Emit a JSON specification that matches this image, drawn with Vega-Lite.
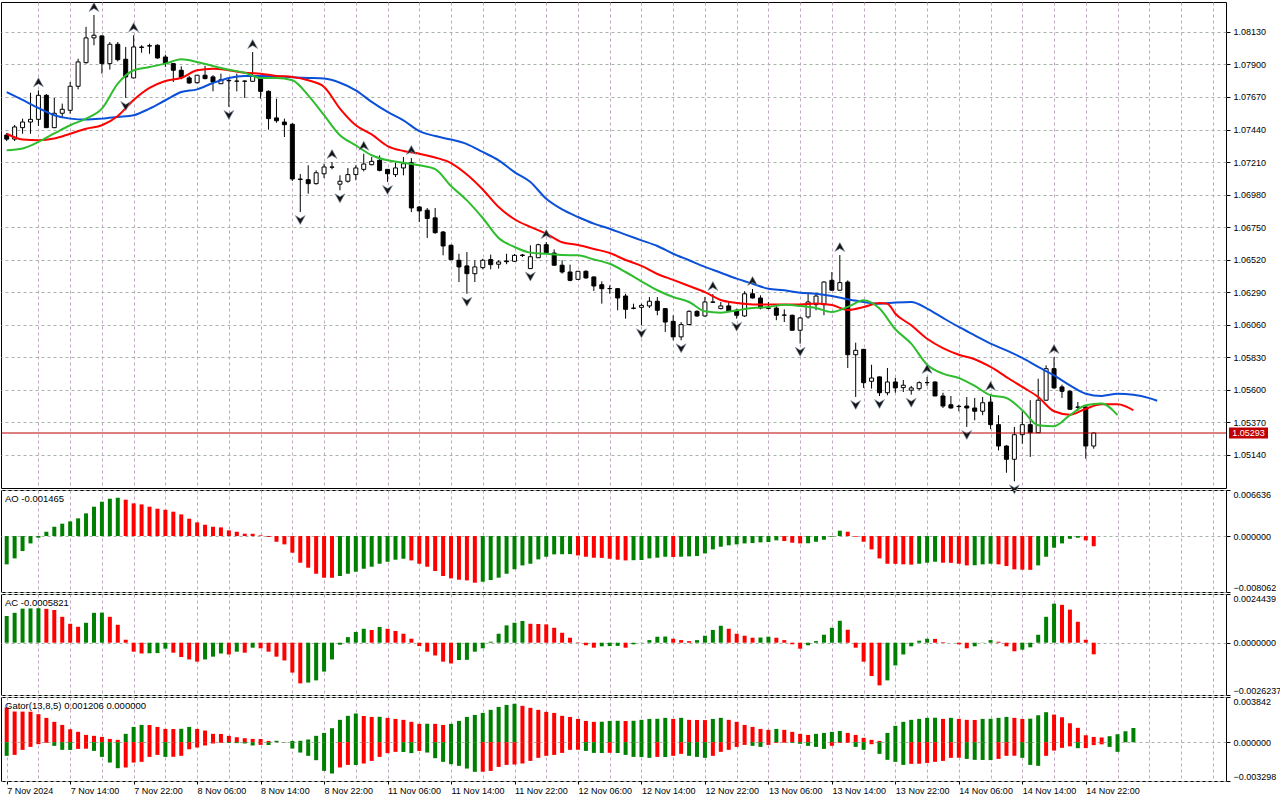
{
  "$schema": "https://vega.github.io/schema/vega-lite/v6.json",
  "padding": {"left": 0, "top": 0, "right": 0, "bottom": 0},
  "background": "white",
  "config": {
    "view": {"stroke": "#000", "strokeWidth": 1},
    "font": "Liberation Sans",
    "axis": {"labelFont": "Liberation Sans", "labelFontSize": 9, "labelColor": "#000", "tickColor": "#000", "domain": false, "gridColor": "#c0a8c0", "gridDash": [3, 3], "gridOpacity": 1},
    "axisY": {"gridColor": "#a8b4a8"},
    "title": {"font": "Liberation Sans", "fontSize": 9.5, "fontWeight": "normal", "color": "#000", "anchor": "start", "offset": -14, "dx": 4}
  },
  "datasets": {
    "candles": [
      {"i":0,"o":1.07401,"h":1.07415,"l":1.07358,"c":1.07372},{"i":1,"o":1.07372,"h":1.07472,"l":1.07358,"c":1.07458},{"i":2,"o":1.07453,"h":1.07517,"l":1.0741,"c":1.07493},{"i":3,"o":1.07493,"h":1.077,"l":1.0741,"c":1.07512},{"i":4,"o":1.07512,"h":1.07717,"l":1.07465,"c":1.07682},{"i":5,"o":1.07682,"h":1.07691,"l":1.07451,"c":1.07453},{"i":6,"o":1.07453,"h":1.07663,"l":1.07449,"c":1.07555},{"i":7,"o":1.07555,"h":1.07623,"l":1.07529,"c":1.07583},{"i":8,"o":1.07576,"h":1.07776,"l":1.07552,"c":1.07746},{"i":9,"o":1.07746,"h":1.07941,"l":1.07724,"c":1.07918},
      {"i":10,"o":1.07913,"h":1.08166,"l":1.07906,"c":1.08088},{"i":11,"o":1.08088,"h":1.0825,"l":1.08036,"c":1.08107},{"i":12,"o":1.08102,"h":1.08105,"l":1.07835,"c":1.07906},{"i":13,"o":1.07906,"h":1.08059,"l":1.07864,"c":1.08043},{"i":14,"o":1.08043,"h":1.08059,"l":1.07922,"c":1.07934},{"i":15,"o":1.07937,"h":1.08024,"l":1.07663,"c":1.07812},{"i":16,"o":1.07805,"h":1.08107,"l":1.07801,"c":1.08024},{"i":17,"o":1.0802,"h":1.08036,"l":1.07983,"c":1.08024},{"i":18,"o":1.0803,"h":1.08047,"l":1.07976,"c":1.08033},{"i":19,"o":1.08036,"h":1.08043,"l":1.07941,"c":1.07946},
      {"i":20,"o":1.07953,"h":1.07969,"l":1.07883,"c":1.07906},{"i":21,"o":1.07906,"h":1.0791,"l":1.07776,"c":1.07859},{"i":22,"o":1.07859,"h":1.07887,"l":1.07795,"c":1.07805},{"i":23,"o":1.07805,"h":1.07819,"l":1.07764,"c":1.07769},{"i":24,"o":1.07771,"h":1.07824,"l":1.07764,"c":1.07824},{"i":25,"o":1.07824,"h":1.0789,"l":1.07795,"c":1.078},{"i":26,"o":1.07812,"h":1.07824,"l":1.0771,"c":1.07776},{"i":27,"o":1.07764,"h":1.07835,"l":1.07762,"c":1.07792},{"i":28,"o":1.07785,"h":1.07805,"l":1.076,"c":1.07788},{"i":29,"o":1.07781,"h":1.07835,"l":1.0771,"c":1.07783},
      {"i":30,"o":1.07781,"h":1.07788,"l":1.07663,"c":1.07783},{"i":31,"o":1.07781,"h":1.07988,"l":1.07779,"c":1.07819},{"i":32,"o":1.07812,"h":1.07819,"l":1.07658,"c":1.0771},{"i":33,"o":1.0771,"h":1.07717,"l":1.07439,"c":1.07517},{"i":34,"o":1.07522,"h":1.07658,"l":1.07488,"c":1.07502},{"i":35,"o":1.07493,"h":1.07517,"l":1.07387,"c":1.07474},{"i":36,"o":1.07477,"h":1.07486,"l":1.07076,"c":1.0709},{"i":37,"o":1.07086,"h":1.07125,"l":1.06856,"c":1.0709},{"i":38,"o":1.07085,"h":1.07187,"l":1.06986,"c":1.07057},{"i":39,"o":1.07057,"h":1.07151,"l":1.0705,"c":1.07134},
      {"i":40,"o":1.07127,"h":1.07198,"l":1.07097,"c":1.07175},{"i":41,"o":1.07173,"h":1.0721,"l":1.07158,"c":1.07175},{"i":42,"o":1.07053,"h":1.07116,"l":1.0701,"c":1.07074},{"i":43,"o":1.07074,"h":1.07168,"l":1.07064,"c":1.07121},{"i":44,"o":1.07121,"h":1.07187,"l":1.07081,"c":1.07168},{"i":45,"o":1.07158,"h":1.07269,"l":1.07144,"c":1.07196},{"i":46,"o":1.07191,"h":1.07245,"l":1.07187,"c":1.07215},{"i":47,"o":1.07222,"h":1.07257,"l":1.07144,"c":1.07151},{"i":48,"o":1.07158,"h":1.0716,"l":1.07069,"c":1.07127},{"i":49,"o":1.07121,"h":1.07205,"l":1.07104,"c":1.07168},
      {"i":50,"o":1.07168,"h":1.07245,"l":1.07116,"c":1.07198},{"i":51,"o":1.07205,"h":1.07238,"l":1.06856,"c":1.06885},{"i":52,"o":1.06892,"h":1.06899,"l":1.06786,"c":1.06864},{"i":53,"o":1.06869,"h":1.06885,"l":1.06673,"c":1.06811},{"i":54,"o":1.06815,"h":1.06885,"l":1.06703,"c":1.0671},{"i":55,"o":1.06715,"h":1.06722,"l":1.0655,"c":1.06616},{"i":56,"o":1.06621,"h":1.06626,"l":1.06517,"c":1.06519},{"i":57,"o":1.06515,"h":1.06561,"l":1.06361,"c":1.06468},{"i":58,"o":1.06475,"h":1.06573,"l":1.06278,"c":1.0642},{"i":59,"o":1.0642,"h":1.06515,"l":1.06361,"c":1.06468},
      {"i":60,"o":1.06463,"h":1.06526,"l":1.06451,"c":1.06515},{"i":61,"o":1.0652,"h":1.06555,"l":1.06451,"c":1.06484},{"i":62,"o":1.06487,"h":1.06515,"l":1.06456,"c":1.06503},{"i":63,"o":1.0651,"h":1.06561,"l":1.06487,"c":1.06505},{"i":64,"o":1.06508,"h":1.06559,"l":1.06503,"c":1.0655},{"i":65,"o":1.06552,"h":1.06559,"l":1.06538,"c":1.06549},{"i":66,"o":1.06456,"h":1.06621,"l":1.06456,"c":1.0654},{"i":67,"o":1.06533,"h":1.06632,"l":1.06533,"c":1.06625},{"i":68,"o":1.06625,"h":1.06644,"l":1.06568,"c":1.06568},{"i":69,"o":1.06566,"h":1.06592,"l":1.06475,"c":1.0648},
      {"i":70,"o":1.0648,"h":1.06515,"l":1.0642,"c":1.06432},{"i":71,"o":1.06432,"h":1.06484,"l":1.06366,"c":1.06373},{"i":72,"o":1.0638,"h":1.06437,"l":1.06377,"c":1.06437},{"i":73,"o":1.06437,"h":1.06444,"l":1.06385,"c":1.0639},{"i":74,"o":1.06397,"h":1.064,"l":1.06298,"c":1.06333},{"i":75,"o":1.06342,"h":1.06366,"l":1.06208,"c":1.06314},{"i":76,"o":1.06314,"h":1.06338,"l":1.06278,"c":1.06315},{"i":77,"o":1.06314,"h":1.06319,"l":1.06161,"c":1.06248},{"i":78,"o":1.06262,"h":1.06278,"l":1.06102,"c":1.06168},{"i":79,"o":1.06177,"h":1.06208,"l":1.06168,"c":1.06175},
      {"i":80,"o":1.06182,"h":1.06208,"l":1.06055,"c":1.06196},{"i":81,"o":1.06192,"h":1.06255,"l":1.06177,"c":1.06225},{"i":82,"o":1.06225,"h":1.06255,"l":1.06126,"c":1.06161},{"i":83,"o":1.06173,"h":1.06177,"l":1.06008,"c":1.06078},{"i":84,"o":1.06083,"h":1.06126,"l":1.05949,"c":1.05973},{"i":85,"o":1.05973,"h":1.06078,"l":1.05949,"c":1.0606},{"i":86,"o":1.0606,"h":1.06161,"l":1.06055,"c":1.06154},{"i":87,"o":1.06154,"h":1.06161,"l":1.06114,"c":1.06121},{"i":88,"o":1.06121,"h":1.06255,"l":1.06116,"c":1.0622},{"i":89,"o":1.0622,"h":1.06276,"l":1.06213,"c":1.06218},
      {"i":90,"o":1.06173,"h":1.0622,"l":1.06168,"c":1.06192},{"i":91,"o":1.06192,"h":1.0622,"l":1.06149,"c":1.06154},{"i":92,"o":1.06161,"h":1.06173,"l":1.06102,"c":1.06126},{"i":93,"o":1.06121,"h":1.06296,"l":1.06114,"c":1.06278},{"i":94,"o":1.06278,"h":1.06312,"l":1.06243,"c":1.06248},{"i":95,"o":1.06248,"h":1.06267,"l":1.06168,"c":1.06177},{"i":96,"o":1.06177,"h":1.0622,"l":1.06168,"c":1.06175},{"i":97,"o":1.06177,"h":1.06196,"l":1.06091,"c":1.06126},{"i":98,"o":1.06126,"h":1.06168,"l":1.06078,"c":1.06128},{"i":99,"o":1.06126,"h":1.0613,"l":1.0602,"c":1.0602},
      {"i":100,"o":1.0602,"h":1.06114,"l":1.05925,"c":1.06107},{"i":101,"o":1.06114,"h":1.0629,"l":1.06102,"c":1.0622},{"i":102,"o":1.06201,"h":1.06278,"l":1.06161,"c":1.06262},{"i":103,"o":1.06201,"h":1.06366,"l":1.06126,"c":1.06361},{"i":104,"o":1.06373,"h":1.06432,"l":1.06303,"c":1.06303},{"i":105,"o":1.06303,"h":1.06552,"l":1.063,"c":1.06357},{"i":106,"o":1.06361,"h":1.06373,"l":1.05753,"c":1.05847},{"i":107,"o":1.05847,"h":1.05932,"l":1.05548,"c":1.05878},{"i":108,"o":1.05885,"h":1.05887,"l":1.05612,"c":1.05649},{"i":109,"o":1.05659,"h":1.05776,"l":1.05607,"c":1.05682},
      {"i":110,"o":1.0569,"h":1.05693,"l":1.05555,"c":1.05578},{"i":111,"o":1.05578,"h":1.05753,"l":1.0556,"c":1.05654},{"i":112,"o":1.05654,"h":1.05683,"l":1.05578,"c":1.05612},{"i":113,"o":1.05614,"h":1.05668,"l":1.05583,"c":1.05631},{"i":114,"o":1.05596,"h":1.05626,"l":1.05564,"c":1.05612},{"i":115,"o":1.05607,"h":1.05659,"l":1.05596,"c":1.05649},{"i":116,"o":1.05649,"h":1.0569,"l":1.05626,"c":1.0565},{"i":117,"o":1.05654,"h":1.05658,"l":1.05555,"c":1.05555},{"i":118,"o":1.05555,"h":1.05578,"l":1.0547,"c":1.05484},{"i":119,"o":1.05493,"h":1.05555,"l":1.05465,"c":1.0547},
      {"i":120,"o":1.05482,"h":1.05493,"l":1.05447,"c":1.0548},{"i":121,"o":1.05484,"h":1.05548,"l":1.05336,"c":1.0547},{"i":122,"o":1.0547,"h":1.05541,"l":1.05383,"c":1.05447},{"i":123,"o":1.05447,"h":1.05548,"l":1.05419,"c":1.05507},{"i":124,"o":1.05512,"h":1.05569,"l":1.0532,"c":1.05352},{"i":125,"o":1.05352,"h":1.05419,"l":1.0517,"c":1.05201},{"i":126,"o":1.05201,"h":1.05206,"l":1.05012,"c":1.05107},{"i":127,"o":1.05107,"h":1.05336,"l":1.04951,"c":1.05281},{"i":128,"o":1.05281,"h":1.05447,"l":1.05217,"c":1.05352},{"i":129,"o":1.05352,"h":1.05525,"l":1.05124,"c":1.05295},
      {"i":130,"o":1.05295,"h":1.05677,"l":1.05293,"c":1.05525},{"i":131,"o":1.05525,"h":1.05772,"l":1.05523,"c":1.05748},{"i":132,"o":1.05748,"h":1.05831,"l":1.05607,"c":1.05612},{"i":133,"o":1.05619,"h":1.05635,"l":1.05541,"c":1.05588},{"i":134,"o":1.05588,"h":1.05597,"l":1.05456,"c":1.05461},{"i":135,"o":1.05477,"h":1.05512,"l":1.0545,"c":1.05475},{"i":136,"o":1.05477,"h":1.0548,"l":1.05111,"c":1.05201},{"i":137,"o":1.05201,"h":1.05295,"l":1.05182,"c":1.05293}
    ],
    "fractals": [
      {"i":4,"p":1.07717,"t":"up"},{"i":11,"p":1.0825,"t":"up"},{"i":16,"p":1.08107,"t":"up"},{"i":31,"p":1.07988,"t":"up"},{"i":41,"p":1.0721,"t":"up"},{"i":45,"p":1.07269,"t":"up"},{"i":51,"p":1.07238,"t":"up"},{"i":68,"p":1.06644,"t":"up"},{"i":89,"p":1.06276,"t":"up"},{"i":94,"p":1.06312,"t":"up"},{"i":105,"p":1.06552,"t":"up"},{"i":116,"p":1.0569,"t":"up"},{"i":124,"p":1.05569,"t":"up"},{"i":132,"p":1.05831,"t":"up"},
      {"i":15,"p":1.07663,"t":"down"},{"i":28,"p":1.076,"t":"down"},{"i":37,"p":1.06856,"t":"down"},{"i":42,"p":1.0701,"t":"down"},{"i":48,"p":1.07069,"t":"down"},{"i":58,"p":1.06278,"t":"down"},{"i":66,"p":1.06456,"t":"down"},{"i":80,"p":1.06055,"t":"down"},{"i":85,"p":1.05949,"t":"down"},{"i":92,"p":1.06102,"t":"down"},{"i":100,"p":1.05925,"t":"down"},{"i":107,"p":1.05548,"t":"down"},{"i":110,"p":1.05555,"t":"down"},{"i":114,"p":1.05564,"t":"down"},{"i":121,"p":1.05336,"t":"down"},{"i":127,"p":1.04951,"t":"down"}
    ],
    "alligator": [
      {"i":0,"s":"jaw","v":1.07705},{"i":2,"s":"jaw","v":1.07649},{"i":4,"s":"jaw","v":1.07592},{"i":6,"s":"jaw","v":1.07541},{"i":8,"s":"jaw","v":1.07517},{"i":10,"s":"jaw","v":1.0751},{"i":12,"s":"jaw","v":1.07517},{"i":14,"s":"jaw","v":1.07529},{"i":16,"s":"jaw","v":1.07541},{"i":18,"s":"jaw","v":1.07588},{"i":20,"s":"jaw","v":1.07647},{"i":22,"s":"jaw","v":1.07705},{"i":24,"s":"jaw","v":1.07724},{"i":26,"s":"jaw","v":1.07769},{"i":28,"s":"jaw","v":1.07805},{"i":30,"s":"jaw","v":1.07819},{"i":32,"s":"jaw","v":1.07819},{"i":34,"s":"jaw","v":1.07817},{"i":36,"s":"jaw","v":1.0781},{"i":38,"s":"jaw","v":1.07805},{"i":40,"s":"jaw","v":1.078},{"i":42,"s":"jaw","v":1.07771},{"i":44,"s":"jaw","v":1.07717},{"i":46,"s":"jaw","v":1.07635},{"i":48,"s":"jaw","v":1.07564},{"i":50,"s":"jaw","v":1.07505},{"i":52,"s":"jaw","v":1.07429},{"i":54,"s":"jaw","v":1.07394},{"i":56,"s":"jaw","v":1.07369},{"i":58,"s":"jaw","v":1.07337},{"i":60,"s":"jaw","v":1.07281},{"i":62,"s":"jaw","v":1.07222},{"i":64,"s":"jaw","v":1.07139},{"i":66,"s":"jaw","v":1.07069},{"i":68,"s":"jaw","v":1.0695},{"i":70,"s":"jaw","v":1.06875},{"i":72,"s":"jaw","v":1.06821},{"i":74,"s":"jaw","v":1.06774},{"i":76,"s":"jaw","v":1.06738},{"i":78,"s":"jaw","v":1.06696},{"i":80,"s":"jaw","v":1.06656},{"i":82,"s":"jaw","v":1.06616},{"i":84,"s":"jaw","v":1.06561},{"i":86,"s":"jaw","v":1.06515},{"i":88,"s":"jaw","v":1.06468},{"i":90,"s":"jaw","v":1.06427},{"i":92,"s":"jaw","v":1.06385},{"i":94,"s":"jaw","v":1.06349},{"i":96,"s":"jaw","v":1.06314},{"i":98,"s":"jaw","v":1.06303},{"i":100,"s":"jaw","v":1.06285},{"i":102,"s":"jaw","v":1.06278},{"i":104,"s":"jaw","v":1.06262},{"i":106,"s":"jaw","v":1.06239},{"i":108,"s":"jaw","v":1.0622},{"i":110,"s":"jaw","v":1.06208},{"i":112,"s":"jaw","v":1.06216},{"i":114,"s":"jaw","v":1.0622},{"i":116,"s":"jaw","v":1.06173},{"i":118,"s":"jaw","v":1.06107},{"i":120,"s":"jaw","v":1.06043},{"i":122,"s":"jaw","v":1.05984},{"i":124,"s":"jaw","v":1.05925},{"i":126,"s":"jaw","v":1.05878},{"i":128,"s":"jaw","v":1.05824},{"i":130,"s":"jaw","v":1.0576},{"i":132,"s":"jaw","v":1.05701},{"i":134,"s":"jaw","v":1.0563},{"i":136,"s":"jaw","v":1.05571},{"i":138,"s":"jaw","v":1.05555},{"i":140,"s":"jaw","v":1.05571},{"i":142,"s":"jaw","v":1.05564},{"i":144,"s":"jaw","v":1.0554},{"i":145,"s":"jaw","v":1.05521},
      {"i":0,"s":"teeth","v":1.0741},{"i":2,"s":"teeth","v":1.07369},{"i":4,"s":"teeth","v":1.07364},{"i":6,"s":"teeth","v":1.07376},{"i":8,"s":"teeth","v":1.0741},{"i":10,"s":"teeth","v":1.07446},{"i":12,"s":"teeth","v":1.0747},{"i":14,"s":"teeth","v":1.07536},{"i":16,"s":"teeth","v":1.07649},{"i":18,"s":"teeth","v":1.07734},{"i":20,"s":"teeth","v":1.07783},{"i":22,"s":"teeth","v":1.07805},{"i":24,"s":"teeth","v":1.07859},{"i":26,"s":"teeth","v":1.0787},{"i":28,"s":"teeth","v":1.07859},{"i":30,"s":"teeth","v":1.07842},{"i":32,"s":"teeth","v":1.07835},{"i":34,"s":"teeth","v":1.07819},{"i":36,"s":"teeth","v":1.07812},{"i":38,"s":"teeth","v":1.07788},{"i":40,"s":"teeth","v":1.07741},{"i":42,"s":"teeth","v":1.07588},{"i":44,"s":"teeth","v":1.0747},{"i":46,"s":"teeth","v":1.07405},{"i":48,"s":"teeth","v":1.07323},{"i":50,"s":"teeth","v":1.07288},{"i":52,"s":"teeth","v":1.07269},{"i":54,"s":"teeth","v":1.07242},{"i":56,"s":"teeth","v":1.07203},{"i":58,"s":"teeth","v":1.07122},{"i":60,"s":"teeth","v":1.07016},{"i":62,"s":"teeth","v":1.06892},{"i":64,"s":"teeth","v":1.06805},{"i":66,"s":"teeth","v":1.06751},{"i":68,"s":"teeth","v":1.06703},{"i":70,"s":"teeth","v":1.06642},{"i":72,"s":"teeth","v":1.06623},{"i":74,"s":"teeth","v":1.06595},{"i":76,"s":"teeth","v":1.06566},{"i":78,"s":"teeth","v":1.06517},{"i":80,"s":"teeth","v":1.06475},{"i":82,"s":"teeth","v":1.06418},{"i":84,"s":"teeth","v":1.06376},{"i":86,"s":"teeth","v":1.06333},{"i":88,"s":"teeth","v":1.0629},{"i":90,"s":"teeth","v":1.06234},{"i":92,"s":"teeth","v":1.06213},{"i":94,"s":"teeth","v":1.06202},{"i":96,"s":"teeth","v":1.06202},{"i":98,"s":"teeth","v":1.06202},{"i":100,"s":"teeth","v":1.06202},{"i":102,"s":"teeth","v":1.06209},{"i":104,"s":"teeth","v":1.06198},{"i":106,"s":"teeth","v":1.06163},{"i":108,"s":"teeth","v":1.06184},{"i":110,"s":"teeth","v":1.06213},{"i":111,"s":"teeth","v":1.06208},{"i":112,"s":"teeth","v":1.06137},{"i":114,"s":"teeth","v":1.06055},{"i":116,"s":"teeth","v":1.0596},{"i":118,"s":"teeth","v":1.05894},{"i":120,"s":"teeth","v":1.05847},{"i":122,"s":"teeth","v":1.05815},{"i":124,"s":"teeth","v":1.0576},{"i":126,"s":"teeth","v":1.05689},{"i":128,"s":"teeth","v":1.05619},{"i":130,"s":"teeth","v":1.05548},{"i":132,"s":"teeth","v":1.05447},{"i":134,"s":"teeth","v":1.05423},{"i":136,"s":"teeth","v":1.05465},{"i":138,"s":"teeth","v":1.05496},{"i":140,"s":"teeth","v":1.05496},{"i":142,"s":"teeth","v":1.05454},
      {"i":0,"s":"lips","v":1.07293},{"i":2,"s":"lips","v":1.07306},{"i":4,"s":"lips","v":1.07352},{"i":6,"s":"lips","v":1.07412},{"i":8,"s":"lips","v":1.0747},{"i":10,"s":"lips","v":1.07517},{"i":12,"s":"lips","v":1.07588},{"i":14,"s":"lips","v":1.07764},{"i":16,"s":"lips","v":1.07859},{"i":18,"s":"lips","v":1.07882},{"i":20,"s":"lips","v":1.07906},{"i":22,"s":"lips","v":1.07937},{"i":24,"s":"lips","v":1.07918},{"i":26,"s":"lips","v":1.07889},{"i":28,"s":"lips","v":1.07863},{"i":30,"s":"lips","v":1.07842},{"i":32,"s":"lips","v":1.07805},{"i":34,"s":"lips","v":1.07805},{"i":36,"s":"lips","v":1.07788},{"i":38,"s":"lips","v":1.07682},{"i":40,"s":"lips","v":1.07541},{"i":42,"s":"lips","v":1.07399},{"i":44,"s":"lips","v":1.07328},{"i":46,"s":"lips","v":1.07258},{"i":48,"s":"lips","v":1.07222},{"i":50,"s":"lips","v":1.07205},{"i":52,"s":"lips","v":1.07187},{"i":54,"s":"lips","v":1.0716},{"i":56,"s":"lips","v":1.0704},{"i":58,"s":"lips","v":1.06939},{"i":60,"s":"lips","v":1.06814},{"i":62,"s":"lips","v":1.06673},{"i":64,"s":"lips","v":1.06609},{"i":66,"s":"lips","v":1.06569},{"i":68,"s":"lips","v":1.06561},{"i":70,"s":"lips","v":1.06552},{"i":72,"s":"lips","v":1.0655},{"i":74,"s":"lips","v":1.06521},{"i":76,"s":"lips","v":1.0649},{"i":78,"s":"lips","v":1.06432},{"i":80,"s":"lips","v":1.06366},{"i":82,"s":"lips","v":1.06303},{"i":84,"s":"lips","v":1.06255},{"i":86,"s":"lips","v":1.0622},{"i":88,"s":"lips","v":1.06154},{"i":90,"s":"lips","v":1.06144},{"i":92,"s":"lips","v":1.06161},{"i":94,"s":"lips","v":1.06177},{"i":96,"s":"lips","v":1.06185},{"i":98,"s":"lips","v":1.06201},{"i":100,"s":"lips","v":1.06192},{"i":102,"s":"lips","v":1.06177},{"i":104,"s":"lips","v":1.06149},{"i":106,"s":"lips","v":1.06185},{"i":108,"s":"lips","v":1.06232},{"i":110,"s":"lips","v":1.06173},{"i":112,"s":"lips","v":1.06027},{"i":114,"s":"lips","v":1.05925},{"i":116,"s":"lips","v":1.05776},{"i":118,"s":"lips","v":1.05713},{"i":120,"s":"lips","v":1.05682},{"i":122,"s":"lips","v":1.05626},{"i":124,"s":"lips","v":1.0556},{"i":126,"s":"lips","v":1.05541},{"i":128,"s":"lips","v":1.05454},{"i":130,"s":"lips","v":1.05348},{"i":132,"s":"lips","v":1.05341},{"i":134,"s":"lips","v":1.05419},{"i":136,"s":"lips","v":1.05489},{"i":138,"s":"lips","v":1.05501},{"i":140,"s":"lips","v":1.05419}
    ],
    "last": [{"p": 1.05293}],
    "osc": [
      {"i":0,"ao":-0.00408,"ad":"up","ac":0.00134,"cd":"up"},{"i":1,"ao":-0.00322,"ad":"up","ac":0.0015,"cd":"up"},{"i":2,"ao":-0.00216,"ad":"up","ac":0.00171,"cd":"up"},{"i":3,"ao":-0.00106,"ad":"up","ac":0.00172,"cd":"up"},{"i":4,"ao":-0.00024,"ad":"up","ac":0.00173,"cd":"up"},{"i":5,"ao":0.00062,"ad":"up","ac":0.0017,"cd":"down"},{"i":6,"ao":0.00134,"ad":"up","ac":0.00164,"cd":"down"},{"i":7,"ao":0.00178,"ad":"up","ac":0.0013,"cd":"down"},{"i":8,"ao":0.00211,"ad":"up","ac":0.00095,"cd":"down"},{"i":9,"ao":0.00255,"ad":"up","ac":0.0008,"cd":"down"},
      {"i":10,"ao":0.00327,"ad":"up","ac":0.001,"cd":"up"},{"i":11,"ao":0.00423,"ad":"up","ac":0.0015,"cd":"up"},{"i":12,"ao":0.00495,"ad":"up","ac":0.00151,"cd":"up"},{"i":13,"ao":0.00538,"ad":"up","ac":0.0013,"cd":"down"},{"i":14,"ao":0.00552,"ad":"up","ac":0.0009,"cd":"down"},{"i":15,"ao":0.00524,"ad":"down","ac":0.00015,"cd":"down"},{"i":16,"ao":0.00471,"ad":"down","ac":-0.00045,"cd":"down"},{"i":17,"ao":0.00456,"ad":"down","ac":-0.00054,"cd":"down"},{"i":18,"ao":0.00423,"ad":"down","ac":-0.00053,"cd":"up"},{"i":19,"ao":0.00394,"ad":"down","ac":-0.00052,"cd":"up"},
      {"i":20,"ao":0.00379,"ad":"down","ac":-0.0003,"cd":"up"},{"i":21,"ao":0.00351,"ad":"down","ac":-0.0005,"cd":"down"},{"i":22,"ao":0.00312,"ad":"down","ac":-0.00072,"cd":"down"},{"i":23,"ao":0.0025,"ad":"down","ac":-0.00084,"cd":"down"},{"i":24,"ao":0.00197,"ad":"down","ac":-0.00095,"cd":"down"},{"i":25,"ao":0.00163,"ad":"down","ac":-0.00084,"cd":"up"},{"i":26,"ao":0.00134,"ad":"down","ac":-0.0007,"cd":"up"},{"i":27,"ao":0.00125,"ad":"down","ac":-0.00054,"cd":"up"},{"i":28,"ao":0.00082,"ad":"down","ac":-0.00059,"cd":"down"},{"i":29,"ao":0.00062,"ad":"down","ac":-0.00045,"cd":"up"},
      {"i":30,"ao":0.00034,"ad":"down","ac":-0.0005,"cd":"down"},{"i":31,"ao":0.00033,"ad":"down","ac":-0.00025,"cd":"up"},{"i":32,"ao":0.0001,"ad":"down","ac":-0.00028,"cd":"down"},{"i":33,"ao":-0.00014,"ad":"down","ac":-0.00045,"cd":"down"},{"i":34,"ao":-0.00082,"ad":"down","ac":-0.0007,"cd":"down"},{"i":35,"ao":-0.0012,"ad":"down","ac":-0.00089,"cd":"down"},{"i":36,"ao":-0.0024,"ad":"down","ac":-0.0015,"cd":"down"},{"i":37,"ao":-0.00384,"ad":"down","ac":-0.00204,"cd":"down"},{"i":38,"ao":-0.00456,"ad":"down","ac":-0.002,"cd":"up"},{"i":39,"ao":-0.00543,"ad":"down","ac":-0.00189,"cd":"up"},
      {"i":40,"ao":-0.006,"ad":"down","ac":-0.00145,"cd":"up"},{"i":41,"ao":-0.00601,"ad":"down","ac":-0.00084,"cd":"up"},{"i":42,"ao":-0.00576,"ad":"up","ac":-0.0001,"cd":"up"},{"i":43,"ao":-0.00543,"ad":"up","ac":0.00028,"cd":"up"},{"i":44,"ao":-0.00514,"ad":"up","ac":0.00054,"cd":"up"},{"i":45,"ao":-0.00471,"ad":"up","ac":0.0007,"cd":"up"},{"i":46,"ao":-0.00442,"ad":"up","ac":0.00064,"cd":"down"},{"i":47,"ao":-0.00399,"ad":"up","ac":0.00079,"cd":"up"},{"i":48,"ao":-0.0037,"ad":"up","ac":0.0007,"cd":"down"},{"i":49,"ao":-0.00341,"ad":"up","ac":0.00059,"cd":"down"},
      {"i":50,"ao":-0.00327,"ad":"up","ac":0.00045,"cd":"down"},{"i":51,"ao":-0.00351,"ad":"down","ac":0.0002,"cd":"down"},{"i":52,"ao":-0.00399,"ad":"down","ac":-0.00017,"cd":"down"},{"i":53,"ao":-0.00442,"ad":"down","ac":-0.00045,"cd":"down"},{"i":54,"ao":-0.00504,"ad":"down","ac":-0.00064,"cd":"down"},{"i":55,"ao":-0.00576,"ad":"down","ac":-0.00095,"cd":"down"},{"i":56,"ao":-0.0061,"ad":"down","ac":-0.00104,"cd":"down"},{"i":57,"ao":-0.00629,"ad":"down","ac":-0.00087,"cd":"up"},{"i":58,"ao":-0.00639,"ad":"down","ac":-0.00086,"cd":"up"},{"i":59,"ao":-0.00672,"ad":"down","ac":-0.00045,"cd":"up"},
      {"i":60,"ao":-0.00658,"ad":"up","ac":-0.00028,"cd":"up"},{"i":61,"ao":-0.00634,"ad":"up","ac":0.00005,"cd":"up"},{"i":62,"ao":-0.006,"ad":"up","ac":0.00045,"cd":"up"},{"i":63,"ao":-0.00543,"ad":"up","ac":0.00087,"cd":"up"},{"i":64,"ao":-0.0048,"ad":"up","ac":0.001,"cd":"up"},{"i":65,"ao":-0.00423,"ad":"up","ac":0.00109,"cd":"up"},{"i":66,"ao":-0.00399,"ad":"up","ac":0.00095,"cd":"down"},{"i":67,"ao":-0.00336,"ad":"up","ac":0.00094,"cd":"down"},{"i":68,"ao":-0.00298,"ad":"up","ac":0.00092,"cd":"down"},{"i":69,"ao":-0.00264,"ad":"up","ac":0.00075,"cd":"down"},
      {"i":70,"ao":-0.00262,"ad":"up","ac":0.0005,"cd":"down"},{"i":71,"ao":-0.0026,"ad":"up","ac":0.00025,"cd":"down"},{"i":72,"ao":-0.00279,"ad":"down","ac":0.00002,"cd":"down"},{"i":73,"ao":-0.00298,"ad":"down","ac":-0.00013,"cd":"down"},{"i":74,"ao":-0.00312,"ad":"down","ac":-0.00025,"cd":"down"},{"i":75,"ao":-0.00315,"ad":"down","ac":-0.00018,"cd":"up"},{"i":76,"ao":-0.00327,"ad":"down","ac":-0.00017,"cd":"up"},{"i":77,"ao":-0.00341,"ad":"down","ac":-0.00016,"cd":"up"},{"i":78,"ao":-0.00351,"ad":"down","ac":-0.00025,"cd":"down"},{"i":79,"ao":-0.00348,"ad":"up","ac":-0.00008,"cd":"up"},
      {"i":80,"ao":-0.00345,"ad":"up","ac":0.00001,"cd":"up"},{"i":81,"ao":-0.00322,"ad":"up","ac":0.00013,"cd":"up"},{"i":82,"ao":-0.00312,"ad":"up","ac":0.0003,"cd":"up"},{"i":83,"ao":-0.00298,"ad":"up","ac":0.00031,"cd":"up"},{"i":84,"ao":-0.00302,"ad":"down","ac":0.0002,"cd":"down"},{"i":85,"ao":-0.00298,"ad":"up","ac":0.00013,"cd":"down"},{"i":86,"ao":-0.00293,"ad":"up","ac":0.00008,"cd":"down"},{"i":87,"ao":-0.00288,"ad":"up","ac":0.00013,"cd":"up"},{"i":88,"ao":-0.0025,"ad":"up","ac":0.00035,"cd":"up"},{"i":89,"ao":-0.00192,"ad":"up","ac":0.00064,"cd":"up"},
      {"i":90,"ao":-0.00154,"ad":"up","ac":0.00085,"cd":"up"},{"i":91,"ao":-0.00134,"ad":"up","ac":0.0007,"cd":"down"},{"i":92,"ao":-0.0012,"ad":"up","ac":0.00045,"cd":"down"},{"i":93,"ao":-0.00106,"ad":"up","ac":0.00035,"cd":"down"},{"i":94,"ao":-0.00101,"ad":"up","ac":0.00025,"cd":"down"},{"i":95,"ao":-0.00091,"ad":"up","ac":0.00026,"cd":"up"},{"i":96,"ao":-0.00086,"ad":"up","ac":0.0003,"cd":"up"},{"i":97,"ao":-0.00062,"ad":"up","ac":0.00025,"cd":"down"},{"i":98,"ao":-0.00072,"ad":"down","ac":0.00013,"cd":"down"},{"i":99,"ao":-0.00096,"ad":"down","ac":-0.00008,"cd":"down"},
      {"i":100,"ao":-0.00106,"ad":"down","ac":-0.0003,"cd":"down"},{"i":101,"ao":-0.00104,"ad":"up","ac":-0.00013,"cd":"up"},{"i":102,"ao":-0.00082,"ad":"up","ac":0.00008,"cd":"up"},{"i":103,"ao":-0.00053,"ad":"up","ac":0.0004,"cd":"up"},{"i":104,"ao":-0.0001,"ad":"up","ac":0.00075,"cd":"up"},{"i":105,"ao":0.00077,"ad":"up","ac":0.0011,"cd":"up"},{"i":106,"ao":0.00062,"ad":"down","ac":0.00065,"cd":"down"},{"i":107,"ao":-0.0001,"ad":"down","ac":-0.00025,"cd":"down"},{"i":108,"ao":-0.00082,"ad":"down","ac":-0.00095,"cd":"down"},{"i":109,"ao":-0.00192,"ad":"down","ac":-0.00167,"cd":"down"},
      {"i":110,"ao":-0.00322,"ad":"down","ac":-0.00214,"cd":"down"},{"i":111,"ao":-0.00399,"ad":"down","ac":-0.00189,"cd":"up"},{"i":112,"ao":-0.00401,"ad":"down","ac":-0.00114,"cd":"up"},{"i":113,"ao":-0.00408,"ad":"down","ac":-0.00059,"cd":"up"},{"i":114,"ao":-0.00412,"ad":"down","ac":-0.00018,"cd":"up"},{"i":115,"ao":-0.00399,"ad":"up","ac":0.0001,"cd":"up"},{"i":116,"ao":-0.00384,"ad":"up","ac":0.0002,"cd":"up"},{"i":117,"ao":-0.0037,"ad":"up","ac":0.00019,"cd":"down"},{"i":118,"ao":-0.00384,"ad":"down","ac":0.00003,"cd":"down"},{"i":119,"ao":-0.00386,"ad":"down","ac":0.0,"cd":"down"},
      {"i":120,"ao":-0.00399,"ad":"down","ac":-0.00008,"cd":"down"},{"i":121,"ao":-0.00423,"ad":"down","ac":-0.00028,"cd":"down"},{"i":122,"ao":-0.00421,"ad":"up","ac":-0.00018,"cd":"up"},{"i":123,"ao":-0.00408,"ad":"up","ac":0.00001,"cd":"up"},{"i":124,"ao":-0.00399,"ad":"up","ac":0.00013,"cd":"up"},{"i":125,"ao":-0.00408,"ad":"down","ac":0.00005,"cd":"down"},{"i":126,"ao":-0.00432,"ad":"down","ac":-0.00018,"cd":"down"},{"i":127,"ao":-0.0048,"ad":"down","ac":-0.00043,"cd":"down"},{"i":128,"ao":-0.00485,"ad":"down","ac":-0.00035,"cd":"up"},{"i":129,"ao":-0.00487,"ad":"down","ac":-0.00023,"cd":"up"},
      {"i":130,"ao":-0.00423,"ad":"up","ac":0.0004,"cd":"up"},{"i":131,"ao":-0.00298,"ad":"up","ac":0.0013,"cd":"up"},{"i":132,"ao":-0.00168,"ad":"up","ac":0.00196,"cd":"up"},{"i":133,"ao":-0.00106,"ad":"up","ac":0.0019,"cd":"down"},{"i":134,"ao":-0.0004,"ad":"up","ac":0.00166,"cd":"down"},{"i":135,"ao":-0.00024,"ad":"up","ac":0.00105,"cd":"down"},{"i":136,"ao":-0.00062,"ad":"down","ac":0.00015,"cd":"down"},{"i":137,"ao":-0.001465,"ad":"down","ac":-0.0005821,"cd":"down"}
    ],
    "gator": [
      {"i":0,"gu":0.00295,"ud":"down","gl":-0.00116,"ld":"up"},{"i":1,"gu":0.00261,"ud":"down","gl":-0.00108,"ld":"down"},{"i":2,"gu":0.0026,"ud":"down","gl":-0.00065,"ld":"down"},{"i":3,"gu":0.00259,"ud":"down","gl":-0.0004,"ld":"down"},{"i":4,"gu":0.00238,"ud":"down","gl":-0.00017,"ld":"down"},{"i":5,"gu":0.00207,"ud":"down","gl":-0.00006,"ld":"down"},{"i":6,"gu":0.00173,"ud":"down","gl":-0.00031,"ld":"up"},{"i":7,"gu":0.00147,"ud":"down","gl":-0.00065,"ld":"up"},{"i":8,"gu":0.0011,"ud":"down","gl":-0.00066,"ld":"up"},{"i":9,"gu":0.00088,"ud":"down","gl":-0.00057,"ld":"down"},
      {"i":10,"gu":0.00062,"ud":"down","gl":-0.00055,"ld":"down"},{"i":11,"gu":0.00054,"ud":"down","gl":-0.00074,"ld":"up"},{"i":12,"gu":0.00045,"ud":"down","gl":-0.00125,"ld":"up"},{"i":13,"gu":0.00028,"ud":"down","gl":-0.00173,"ld":"up"},{"i":14,"gu":0.0002,"ud":"down","gl":-0.00221,"ld":"up"},{"i":15,"gu":0.00071,"ud":"up","gl":-0.00215,"ld":"down"},{"i":16,"gu":0.0013,"ud":"up","gl":-0.00173,"ld":"down"},{"i":17,"gu":0.00147,"ud":"up","gl":-0.00167,"ld":"down"},{"i":18,"gu":0.00146,"ud":"down","gl":-0.00125,"ld":"down"},{"i":19,"gu":0.0013,"ud":"down","gl":-0.00108,"ld":"down"},
      {"i":20,"gu":0.00113,"ud":"down","gl":-0.00125,"ld":"up"},{"i":21,"gu":0.00112,"ud":"down","gl":-0.00124,"ld":"down"},{"i":22,"gu":0.00114,"ud":"up","gl":-0.00116,"ld":"down"},{"i":23,"gu":0.0013,"ud":"up","gl":-0.0006,"ld":"down"},{"i":24,"gu":0.00113,"ud":"down","gl":-0.00045,"ld":"down"},{"i":25,"gu":0.00099,"ud":"down","gl":-0.00028,"ld":"down"},{"i":26,"gu":0.00071,"ud":"down","gl":-0.00011,"ld":"down"},{"i":27,"gu":0.0007,"ud":"down","gl":-0.00006,"ld":"down"},{"i":28,"gu":0.00054,"ud":"down","gl":-0.00007,"ld":"up"},{"i":29,"gu":0.00042,"ud":"down","gl":-0.00008,"ld":"up"},
      {"i":30,"gu":0.00034,"ud":"down","gl":-0.00011,"ld":"up"},{"i":31,"gu":0.00028,"ud":"down","gl":-0.00028,"ld":"up"},{"i":32,"gu":0.00027,"ud":"down","gl":-0.00023,"ld":"down"},{"i":33,"gu":0.00011,"ud":"down","gl":-0.00024,"ld":"up"},{"i":34,"gu":0.00012,"ud":"up","gl":-0.00001,"ld":"down"},{"i":35,"gu":0.00001,"ud":"down","gl":-0.00003,"ld":"up"},{"i":36,"gu":0.00011,"ud":"up","gl":-0.00054,"ld":"up"},{"i":37,"gu":0.00012,"ud":"up","gl":-0.00088,"ld":"up"},{"i":38,"gu":0.00023,"ud":"up","gl":-0.00116,"ld":"up"},{"i":39,"gu":0.00054,"ud":"up","gl":-0.00153,"ld":"up"},
      {"i":40,"gu":0.00079,"ud":"up","gl":-0.00244,"ld":"up"},{"i":41,"gu":0.00119,"ud":"up","gl":-0.00266,"ld":"up"},{"i":42,"gu":0.0019,"ud":"up","gl":-0.00215,"ld":"down"},{"i":43,"gu":0.00224,"ud":"up","gl":-0.00193,"ld":"down"},{"i":44,"gu":0.00244,"ud":"up","gl":-0.00194,"ld":"up"},{"i":45,"gu":0.00223,"ud":"down","gl":-0.00181,"ld":"down"},{"i":46,"gu":0.00215,"ud":"down","gl":-0.00159,"ld":"down"},{"i":47,"gu":0.00216,"ud":"up","gl":-0.00125,"ld":"down"},{"i":48,"gu":0.00207,"ud":"down","gl":-0.00093,"ld":"down"},{"i":49,"gu":0.00198,"ud":"down","gl":-0.00082,"ld":"down"},
      {"i":50,"gu":0.0019,"ud":"down","gl":-0.00083,"ld":"up"},{"i":51,"gu":0.00173,"ud":"down","gl":-0.00093,"ld":"up"},{"i":52,"gu":0.00156,"ud":"down","gl":-0.00074,"ld":"down"},{"i":53,"gu":0.00157,"ud":"up","gl":-0.00088,"ld":"up"},{"i":54,"gu":0.00156,"ud":"down","gl":-0.00136,"ld":"up"},{"i":55,"gu":0.00147,"ud":"down","gl":-0.00167,"ld":"up"},{"i":56,"gu":0.00156,"ud":"up","gl":-0.00187,"ld":"up"},{"i":57,"gu":0.00181,"ud":"up","gl":-0.00201,"ld":"up"},{"i":58,"gu":0.00215,"ud":"up","gl":-0.00224,"ld":"up"},{"i":59,"gu":0.00232,"ud":"up","gl":-0.00252,"ld":"up"},
      {"i":60,"gu":0.00249,"ud":"up","gl":-0.00251,"ld":"down"},{"i":61,"gu":0.00275,"ud":"up","gl":-0.00244,"ld":"down"},{"i":62,"gu":0.003,"ud":"up","gl":-0.0021,"ld":"down"},{"i":63,"gu":0.00317,"ud":"up","gl":-0.00193,"ld":"down"},{"i":64,"gu":0.00326,"ud":"up","gl":-0.0019,"ld":"down"},{"i":65,"gu":0.00309,"ud":"down","gl":-0.00181,"ld":"down"},{"i":66,"gu":0.00292,"ud":"down","gl":-0.00159,"ld":"down"},{"i":67,"gu":0.00275,"ud":"down","gl":-0.00133,"ld":"down"},{"i":68,"gu":0.00258,"ud":"down","gl":-0.00116,"ld":"down"},{"i":69,"gu":0.00249,"ud":"down","gl":-0.00108,"ld":"down"},
      {"i":70,"gu":0.00224,"ud":"down","gl":-0.00091,"ld":"down"},{"i":71,"gu":0.00215,"ud":"down","gl":-0.00065,"ld":"down"},{"i":72,"gu":0.00198,"ud":"down","gl":-0.00064,"ld":"down"},{"i":73,"gu":0.00181,"ud":"down","gl":-0.00074,"ld":"up"},{"i":74,"gu":0.00173,"ud":"down","gl":-0.00091,"ld":"up"},{"i":75,"gu":0.00174,"ud":"up","gl":-0.00092,"ld":"up"},{"i":76,"gu":0.00181,"ud":"up","gl":-0.0009,"ld":"down"},{"i":77,"gu":0.00182,"ud":"up","gl":-0.00092,"ld":"up"},{"i":78,"gu":0.0018,"ud":"down","gl":-0.00108,"ld":"up"},{"i":79,"gu":0.00182,"ud":"up","gl":-0.00125,"ld":"up"},
      {"i":80,"gu":0.0019,"ud":"up","gl":-0.00126,"ld":"up"},{"i":81,"gu":0.00198,"ud":"up","gl":-0.00133,"ld":"up"},{"i":82,"gu":0.00199,"ud":"up","gl":-0.00125,"ld":"down"},{"i":83,"gu":0.00207,"ud":"up","gl":-0.00126,"ld":"up"},{"i":84,"gu":0.00198,"ud":"down","gl":-0.00116,"ld":"down"},{"i":85,"gu":0.00207,"ud":"up","gl":-0.00099,"ld":"down"},{"i":86,"gu":0.0019,"ud":"down","gl":-0.00116,"ld":"up"},{"i":87,"gu":0.00189,"ud":"down","gl":-0.00125,"ld":"up"},{"i":88,"gu":0.00188,"ud":"down","gl":-0.00133,"ld":"up"},{"i":89,"gu":0.00198,"ud":"up","gl":-0.00116,"ld":"down"},
      {"i":90,"gu":0.00207,"ud":"up","gl":-0.00082,"ld":"down"},{"i":91,"gu":0.0019,"ud":"down","gl":-0.00065,"ld":"down"},{"i":92,"gu":0.00173,"ud":"down","gl":-0.0004,"ld":"down"},{"i":93,"gu":0.00147,"ud":"down","gl":-0.00023,"ld":"down"},{"i":94,"gu":0.0013,"ud":"down","gl":-0.00031,"ld":"up"},{"i":95,"gu":0.00113,"ud":"down","gl":-0.0004,"ld":"up"},{"i":96,"gu":0.00105,"ud":"down","gl":-0.00023,"ld":"down"},{"i":97,"gu":0.00113,"ud":"up","gl":-0.00006,"ld":"down"},{"i":98,"gu":0.00105,"ud":"down","gl":-0.00005,"ld":"down"},{"i":99,"gu":0.00088,"ud":"down","gl":-0.00006,"ld":"up"},
      {"i":100,"gu":0.00071,"ud":"down","gl":-0.00014,"ld":"up"},{"i":101,"gu":0.00062,"ud":"down","gl":-0.00031,"ld":"up"},{"i":102,"gu":0.00071,"ud":"up","gl":-0.0004,"ld":"up"},{"i":103,"gu":0.00079,"ud":"up","gl":-0.00057,"ld":"up"},{"i":104,"gu":0.00088,"ud":"up","gl":-0.00031,"ld":"down"},{"i":105,"gu":0.00096,"ud":"up","gl":-0.00006,"ld":"down"},{"i":106,"gu":0.00079,"ud":"down","gl":-0.00005,"ld":"down"},{"i":107,"gu":0.00062,"ud":"down","gl":-0.0004,"ld":"up"},{"i":108,"gu":0.00037,"ud":"down","gl":-0.00065,"ld":"up"},{"i":109,"gu":0.0002,"ud":"down","gl":-0.00017,"ld":"down"},
      {"i":110,"gu":0.00011,"ud":"down","gl":-0.00099,"ld":"up"},{"i":111,"gu":0.00079,"ud":"up","gl":-0.0015,"ld":"up"},{"i":112,"gu":0.00139,"ud":"up","gl":-0.00167,"ld":"up"},{"i":113,"gu":0.00173,"ud":"up","gl":-0.00193,"ld":"up"},{"i":114,"gu":0.0019,"ud":"up","gl":-0.00184,"ld":"down"},{"i":115,"gu":0.00198,"ud":"up","gl":-0.00183,"ld":"down"},{"i":116,"gu":0.00207,"ud":"up","gl":-0.00176,"ld":"down"},{"i":117,"gu":0.00208,"ud":"up","gl":-0.00167,"ld":"down"},{"i":118,"gu":0.00198,"ud":"down","gl":-0.00159,"ld":"down"},{"i":119,"gu":0.00207,"ud":"up","gl":-0.00133,"ld":"down"},
      {"i":120,"gu":0.00198,"ud":"down","gl":-0.00132,"ld":"down"},{"i":121,"gu":0.0019,"ud":"down","gl":-0.00142,"ld":"up"},{"i":122,"gu":0.00189,"ud":"down","gl":-0.0015,"ld":"up"},{"i":123,"gu":0.00198,"ud":"up","gl":-0.00151,"ld":"up"},{"i":124,"gu":0.00199,"ud":"up","gl":-0.00152,"ld":"up"},{"i":125,"gu":0.00207,"ud":"up","gl":-0.00142,"ld":"down"},{"i":126,"gu":0.00215,"ud":"up","gl":-0.00116,"ld":"down"},{"i":127,"gu":0.00207,"ud":"down","gl":-0.00115,"ld":"down"},{"i":128,"gu":0.00198,"ud":"down","gl":-0.00133,"ld":"up"},{"i":129,"gu":0.002,"ud":"up","gl":-0.00193,"ld":"up"},
      {"i":130,"gu":0.00229,"ud":"up","gl":-0.00201,"ld":"up"},{"i":131,"gu":0.00255,"ud":"up","gl":-0.00116,"ld":"down"},{"i":132,"gu":0.00235,"ud":"down","gl":-0.00071,"ld":"down"},{"i":133,"gu":0.00212,"ud":"down","gl":-0.00048,"ld":"down"},{"i":134,"gu":0.00161,"ud":"down","gl":-0.00035,"ld":"down"},{"i":135,"gu":0.00122,"ud":"down","gl":-0.00051,"ld":"up"},{"i":136,"gu":0.00059,"ud":"down","gl":-0.0005,"ld":"down"},{"i":137,"gu":0.00045,"ud":"down","gl":-0.00025,"ld":"down"},{"i":138,"gu":0.0004,"ud":"down","gl":-0.00018,"ld":"down"},{"i":139,"gu":0.00051,"ud":"up","gl":-0.0004,"ld":"up"},
      {"i":140,"gu":0.00068,"ud":"up","gl":-0.00082,"ld":"up"},{"i":141,"gu":0.00093,"ud":"up","gl":-0.00001,"ld":"down"},{"i":142,"gu":0.001206,"ud":"up","gl":0.0,"ld":"down"}
    ]
  },
  "vconcat": [
    {
      "width": 1225,
      "height": 486,
      "resolve": {"axis": {"x": "independent", "y": "independent"}},
      "layer": [
        {
          "data": {"name": "candles"},
          "mark": {"type": "rule", "color": "#000", "strokeWidth": 1},
          "encoding": {
            "x": {"field": "i", "type": "quantitative", "scale": {"domain": [-0.0875, 153.04], "nice": false, "zero": false}, "axis": {"orient": "bottom", "title": null, "values": [4,8,12,16,20,24,28,32,36,40,44,48,52,56,60,64,68,72,76,80,84,88,92,96,100,104,108,112,116,120,124,128,132,136,140,144,148,152], "labels": false, "ticks": false, "grid": true}},
            "y": {"field": "l", "type": "quantitative", "scale": {"domain": [1.04904, 1.08342], "nice": false, "zero": false}, "axis": {"orient": "right", "title": null, "values": [1.0514,1.0537,1.056,1.0583,1.0606,1.0629,1.0652,1.0675,1.0698,1.0721,1.0744,1.0767,1.079,1.0813], "format": ".5f", "grid": true, "tickSize": 4, "labelPadding": 3}},
            "y2": {"field": "h"}
          }
        },
        {
          "data": {"name": "candles"},
          "mark": {"type": "bar", "width": 4, "stroke": "#000", "strokeWidth": 1},
          "encoding": {
            "x": {"field": "i", "type": "quantitative", "axis": null},
            "y": {"field": "o", "type": "quantitative", "axis": null},
            "y2": {"field": "c"},
            "fill": {"condition": {"test": "datum.c > datum.o", "value": "#ffffff"}, "value": "#000000"}
          }
        },
        {
          "data": {"name": "last"},
          "mark": {"type": "rule", "color": "#b80000", "strokeWidth": 1},
          "encoding": {
            "y": {"field": "p", "type": "quantitative", "axis": null}
          }
        },
        {
          "data": {"name": "alligator"},
          "mark": {"type": "line", "strokeWidth": 2, "interpolate": "monotone"},
          "encoding": {
            "x": {"field": "i", "type": "quantitative", "axis": null},
            "y": {"field": "v", "type": "quantitative", "axis": null},
            "color": {"field": "s", "type": "nominal", "scale": {"domain": ["jaw", "teeth", "lips"], "range": ["#0a50d8", "#ff0000", "#2ebd2e"]}, "legend": null},
            "order": {"field": "i", "type": "quantitative"}
          }
        },
        {
          "data": {"name": "fractals"},
          "transform": [{"filter": "datum.t == 'up'"}],
          "mark": {"type": "point", "shape": "M0,-0.9L1,0.9L0,0.3L-1,0.9Z", "filled": true, "fill": "#151515", "stroke": "#8795ad", "strokeWidth": 0.6, "size": 100, "opacity": 1, "yOffset": -8},
          "encoding": {
            "x": {"field": "i", "type": "quantitative", "axis": null},
            "y": {"field": "p", "type": "quantitative", "axis": null}
          }
        },
        {
          "data": {"name": "fractals"},
          "transform": [{"filter": "datum.t == 'down'"}],
          "mark": {"type": "point", "shape": "M0,0.9L1,-0.9L0,-0.3L-1,-0.9Z", "filled": true, "fill": "#151515", "stroke": "#8795ad", "strokeWidth": 0.6, "size": 100, "opacity": 1, "yOffset": 8},
          "encoding": {
            "x": {"field": "i", "type": "quantitative", "axis": null},
            "y": {"field": "p", "type": "quantitative", "axis": null}
          }
        },
        {
          "data": {"name": "last"},
          "mark": {"type": "rule", "color": "#c00000", "strokeWidth": 11, "strokeCap": "butt"},
          "encoding": {
            "x": {"value": 1228},
            "x2": {"value": 1267},
            "y": {"field": "p", "type": "quantitative", "axis": null}
          }
        },
        {
          "data": {"name": "last"},
          "mark": {"type": "text", "align": "center", "baseline": "middle", "color": "#ffffff", "font": "Liberation Sans", "fontSize": 9},
          "encoding": {
            "x": {"value": 1247.5},
            "y": {"field": "p", "type": "quantitative", "axis": null},
            "text": {"field": "p", "type": "quantitative", "format": ".5f"}
          }
        }
      ]
    },
    {
      "width": 1225,
      "height": 102,
      "title": {"text": "AO -0.001465"},
      "data": {"name": "osc"},
      "mark": {"type": "bar", "width": 4},
      "encoding": {
        "x": {"field": "i", "type": "quantitative", "scale": {"domain": [-0.0875, 153.04], "nice": false, "zero": false}, "axis": {"orient": "bottom", "title": null, "values": [4,8,12,16,20,24,28,32,36,40,44,48,52,56,60,64,68,72,76,80,84,88,92,96,100,104,108,112,116,120,124,128,132,136,140,144,148,152], "labels": false, "ticks": false, "grid": true}},
        "y": {"field": "ao", "type": "quantitative", "scale": {"domain": [-0.008062, 0.006636], "nice": false, "zero": false}, "axis": {"orient": "right", "title": null, "values": [-0.008062, 0, 0.006636], "format": ".6f", "grid": true, "tickSize": 4, "labelPadding": 3, "labelFlush": true}},
        "y2": {"datum": 0},
        "color": {"field": "ad", "type": "nominal", "scale": {"domain": ["up", "down"], "range": ["#008000", "#ff0000"]}, "legend": null}
      }
    },
    {
      "width": 1225,
      "height": 101,
      "title": {"text": "AC -0.0005821"},
      "data": {"name": "osc"},
      "mark": {"type": "bar", "width": 4},
      "encoding": {
        "x": {"field": "i", "type": "quantitative", "scale": {"domain": [-0.0875, 153.04], "nice": false, "zero": false}, "axis": {"orient": "bottom", "title": null, "values": [4,8,12,16,20,24,28,32,36,40,44,48,52,56,60,64,68,72,76,80,84,88,92,96,100,104,108,112,116,120,124,128,132,136,140,144,148,152], "labels": false, "ticks": false, "grid": true}},
        "y": {"field": "ac", "type": "quantitative", "scale": {"domain": [-0.0026237, 0.0024439], "nice": false, "zero": false}, "axis": {"orient": "right", "title": null, "values": [-0.0026237, 0, 0.0024439], "format": ".7f", "grid": true, "tickSize": 4, "labelPadding": 3, "labelFlush": true}},
        "y2": {"datum": 0},
        "color": {"field": "cd", "type": "nominal", "scale": {"domain": ["up", "down"], "range": ["#008000", "#ff0000"]}, "legend": null}
      }
    },
    {
      "width": 1225,
      "height": 84,
      "title": {"text": "Gator(13,8,5) 0.001206 0.000000"},
      "data": {"name": "gator"},
      "resolve": {"axis": {"x": "independent", "y": "independent"}},
      "layer": [
        {
          "mark": {"type": "bar", "width": 4},
          "encoding": {
            "x": {"field": "i", "type": "quantitative", "scale": {"domain": [-0.0875, 153.04], "nice": false, "zero": false}, "axis": {"orient": "bottom", "title": null, "values": [0,4,8,12,16,20,24,28,32,36,40,44,48,52,56,60,64,68,72,76,80,84,88,92,96,100,104,108,112,116,120,124,128,132,136,140,144,148,152], "grid": true, "tickSize": 3, "tickColor": {"condition": {"test": "datum.value % 8 == 0 && datum.value <= 136", "value": "#000"}, "value": "transparent"}, "labelExpr": "datum.value % 8 == 0 && datum.value <= 136 ? ['7 Nov 2024','7 Nov 14:00','7 Nov 22:00','8 Nov 06:00','8 Nov 14:00','8 Nov 22:00','11 Nov 06:00','11 Nov 14:00','11 Nov 22:00','12 Nov 06:00','12 Nov 14:00','12 Nov 22:00','13 Nov 06:00','13 Nov 14:00','13 Nov 22:00','14 Nov 06:00','14 Nov 14:00','14 Nov 22:00'][datum.value / 8] : ''", "labelAlign": "left", "labelBaseline": "top", "labelPadding": 2, "labelOverlap": false, "labelBound": false, "labelFlush": false}},
            "y": {"field": "gu", "type": "quantitative", "scale": {"domain": [-0.003298, 0.003842], "nice": false, "zero": false}, "axis": {"orient": "right", "title": null, "values": [-0.003298, 0, 0.003842], "format": ".6f", "grid": true, "tickSize": 4, "labelPadding": 3, "labelFlush": true}},
            "y2": {"datum": 0},
            "color": {"field": "ud", "type": "nominal", "scale": {"domain": ["up", "down"], "range": ["#008000", "#ff0000"]}, "legend": null}
          }
        },
        {
          "mark": {"type": "bar", "width": 4},
          "encoding": {
            "x": {"field": "i", "type": "quantitative", "axis": null},
            "y": {"field": "gl", "type": "quantitative", "axis": null},
            "y2": {"datum": 0},
            "color": {"field": "ld", "type": "nominal", "legend": null}
          }
        }
      ]
    }
  ],
  "spacing": 2,
  "bounds": "flush",
  "resolve": {"scale": {"x": "independent", "y": "independent", "color": "independent"}}
}
